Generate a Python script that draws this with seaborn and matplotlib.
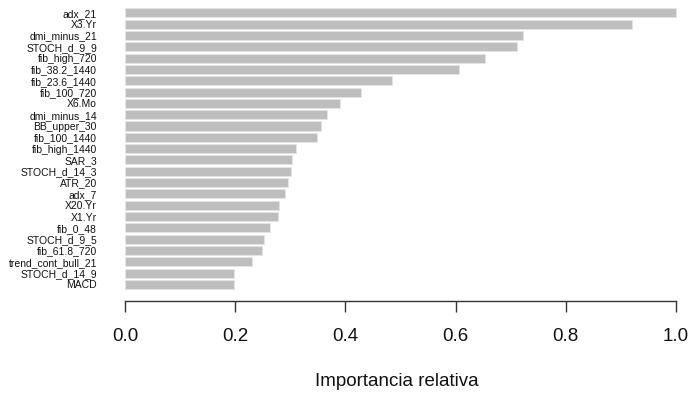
import matplotlib
matplotlib.use("Agg")
import matplotlib.pyplot as plt
import seaborn as sns
import pandas as pd

# Relative importance of each predictor, sorted from most to least important
features = [
    "adx_21", "X3.Yr", "dmi_minus_21", "STOCH_d_9_9", "fib_high_720",
    "fib_38.2_1440", "fib_23.6_1440", "fib_100_720", "X6.Mo", "dmi_minus_14",
    "BB_upper_30", "fib_100_1440", "fib_high_1440", "SAR_3", "STOCH_d_14_3",
    "ATR_20", "adx_7", "X20.Yr", "X1.Yr", "fib_0_48", "STOCH_d_9_5",
    "fib_61.8_720", "trend_cont_bull_21", "STOCH_d_14_9", "MACD",
]
importance = [
    1.000, 0.920, 0.723, 0.711, 0.654,
    0.607, 0.484, 0.428, 0.391, 0.367,
    0.356, 0.349, 0.310, 0.303, 0.301,
    0.295, 0.290, 0.280, 0.278, 0.264, 0.253,
    0.248, 0.231, 0.198, 0.197,
]
x_ticks = [0.0, 0.2, 0.4, 0.6, 0.8, 1.0]
x_label = "Importancia relativa"

df = pd.DataFrame({"feature": features, "importance": importance})

sns.set_theme(style="white")
plt.rcParams["font.family"] = ["Liberation Sans", "DejaVu Sans"]

W, H, DPI = 689, 394, 100
fig = plt.figure(figsize=(W / DPI, H / DPI), dpi=DPI)

# axes placed so that x=0 -> 125 px, x=1 -> 676 px; first bar centre 12.8 px, last 284.5 px
n = len(features)
x0_px, x1_px = 125.0, 676.0
ppu = x1_px - x0_px
xlim = (-0.04, 1.04)
left_px = x0_px + xlim[0] * ppu
width_px = (xlim[1] - xlim[0]) * ppu
row_px = (284.5 - 12.8) / (n - 1)
pad = 0.6
top_px = 12.8 - pad * row_px
bot_px = 284.5 + pad * row_px
ax = fig.add_axes([left_px / W, 1 - bot_px / H, width_px / W, (bot_px - top_px) / H])

sns.barplot(data=df, x="importance", y="feature", orient="h", ax=ax,
            color="#bebebe", saturation=1, width=0.8,
            edgecolor="#e4e4e4", linewidth=0.6)

ax.set_xlim(*xlim)
ax.set_ylim(n - 1 + pad, -pad)

for s in ["top", "right", "left"]:
    ax.spines[s].set_visible(False)
ax.spines["bottom"].set_position(("outward", (301 - bot_px) * 72 / DPI))
ax.spines["bottom"].set_bounds(0, 1)
ax.spines["bottom"].set_color("#333333")
ax.spines["bottom"].set_linewidth(1.0)

ax.set_xticks(x_ticks)
ax.set_xticklabels([f"{t:.1f}" for t in x_ticks])
ax.tick_params(axis="x", bottom=True, length=11.5 * 72 / DPI, width=1.0,
               color="#333333", labelsize=13.5, pad=11, labelcolor="#111111")
ax.tick_params(axis="y", left=False, length=0, labelsize=7.5, pad=4.3,
               labelcolor="#111111")
ax.set_ylabel("")
ax.set_xlabel("")
fig.text(397 / W, 1 - 382 / H, x_label, ha="center", va="center",
         fontsize=13.5, color="#111111")

fig.savefig("out.png", dpi=DPI)
